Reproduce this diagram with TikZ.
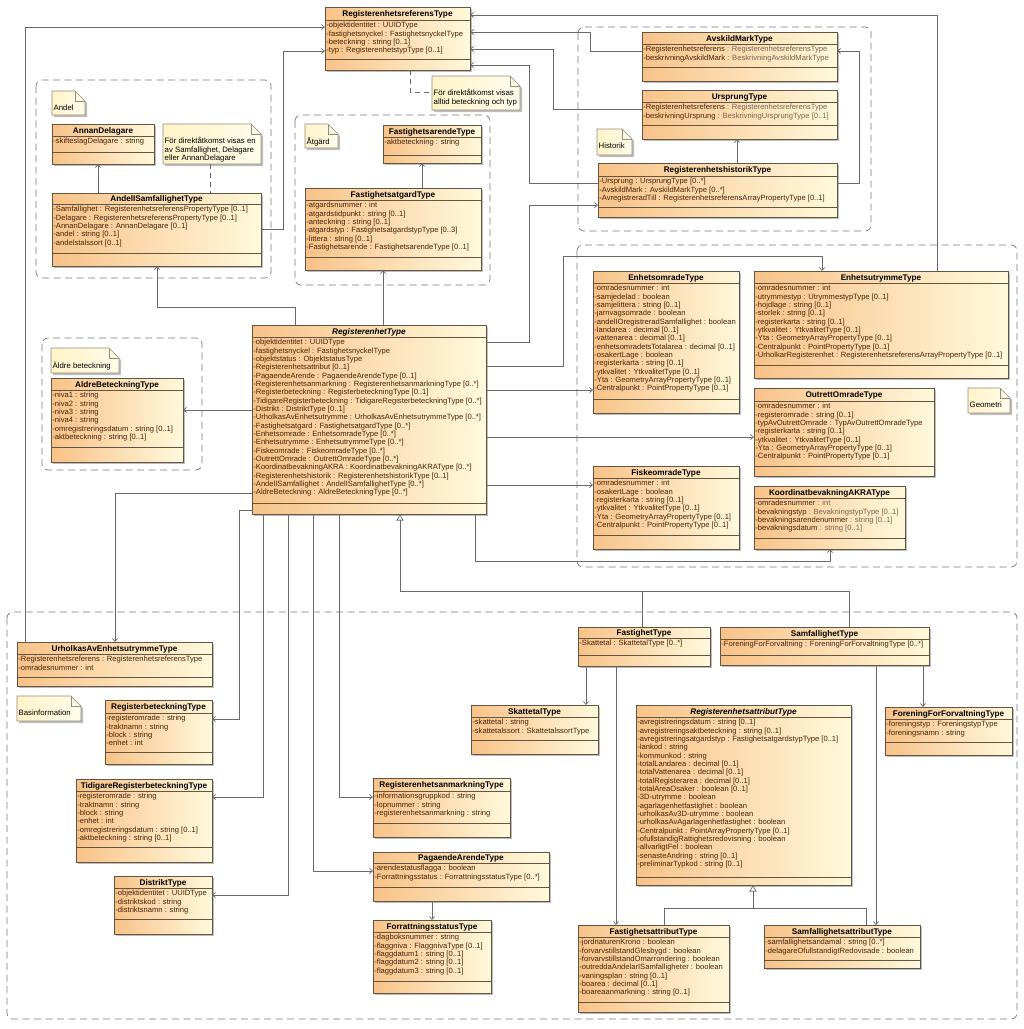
\documentclass[tikz,border=0pt]{standalone}
\usepackage{fontspec}
\setmainfont{Liberation Sans}
\usetikzlibrary{arrows.meta}
\definecolor{clsA}{RGB}{248,194,136}
\definecolor{clsB}{RGB}{255,249,220}
\definecolor{clsborder}{RGB}{100,84,66}
\definecolor{attrc}{RGB}{70,35,10}
\definecolor{typec}{RGB}{120,100,85}
\definecolor{noteA}{RGB}{255,243,200}
\definecolor{noteB}{RGB}{255,252,235}
\definecolor{notec}{RGB}{150,140,120}
\definecolor{connc}{RGB}{105,105,105}
\definecolor{grpc}{RGB}{120,120,120}
\definecolor{shadowc}{RGB}{190,190,190}
\tikzset{
  x=1pt,y=-1pt,
  clsbox/.style={rectangle,draw=clsborder,line width=0.65pt,left color=clsA,right color=clsB,anchor=north west,inner sep=0pt,outer sep=0pt},
  clssep/.style={draw=clsborder,line width=0.6pt},
  clstitle/.style={anchor=base,inner sep=0pt,font=\fontsize{8.2}{9}\selectfont\bfseries},
  clsattr/.style={anchor=north west,inner xsep=1.2pt,inner ysep=2.2pt,align=left,text=attrc,font=\fontsize{7.6}{8.33}\selectfont},
  notefill/.style={draw=notec,line width=0.6pt,left color=noteA,right color=noteB},
  noteline/.style={draw=notec,line width=0.6pt},
  notebox/.style={rectangle,anchor=north west,inner sep=0pt,outer sep=0pt},
  notetext/.style={anchor=north west,inner sep=1pt,align=left,font=\fontsize{7.8}{8.4}\selectfont},
  grp/.style={draw=grpc,line width=0.7pt,dash pattern=on 7pt off 4.5pt,rounded corners=6pt},
  conn/.style={draw=connc,line width=0.7pt},
  assoc/.style={conn,-{Straight Barb[length=3pt,width=5pt]}},
  gen/.style={conn,-{Triangle[open,length=6.5pt,width=7pt,fill=white]}},
  noteconn/.style={conn,dash pattern=on 5pt off 4pt},
}
\newcommand\tp[1]{\textcolor{typec}{#1}}
\newcommand\umlclass[9]{%
  \pgfmathsetmacro\umlw{#4-#2}%
  \pgfmathsetmacro\umlh{#5-#3}%
  \fill[shadowc] ({#2+2},{#3+2}) rectangle ({#4+2},{#5+2});%
  \node[clsbox,minimum width=\umlw pt,minimum height=\umlh pt] (#1) at (#2,#3) {};%
  \draw[clssep] (#2,#6) -- (#4,#6);%
  \draw[clssep] (#2,#7) -- (#4,#7);%
  \node[clstitle] at ({(#2+#4)/2},{(#3+#6)/2+3}) {#8};%
  \node[clsattr] at (#2,#6) {#9};%
}
\newcommand\umlnote[6]{%
  \pgfmathsetmacro\umlw{#4-#2}%
  \pgfmathsetmacro\umlh{#5-#3}%
  \fill[shadowc] ({#2+2},{#3+2}) -- ({#4+2-10},{#3+2}) -- ({#4+2},{#3+12}) -- ({#4+2},{#5+2}) -- ({#2+2},{#5+2}) -- cycle;%
  \path[notefill] (#2,#3) -- ({#4-10},#3) -- (#4,{#3+10}) -- (#4,#5) -- (#2,#5) -- cycle;%
  \draw[noteline] ({#4-10},#3) -- ({#4-10},{#3+10}) -- (#4,{#3+10});%
  \node[notebox,minimum width=\umlw pt,minimum height=\umlh pt] (#1) at (#2,#3) {};%
  \node[notetext] at ({#2+0.5},{#3+12.5}) {#6};%
}
\begin{document}
\begin{tikzpicture}
\useasboundingbox (0,0) rectangle (1024,1029);
\fill[white] (0,0) rectangle (1024,1029);

% group frames
\draw[grp] (36,80) rectangle (271,278);
\draw[grp] (295,115) rectangle (490,285);
\draw[grp] (578,27) rectangle (871,231);
\draw[grp] (42,338) rectangle (202,470);
\draw[grp] (577,245) rectangle (1017,567);
\draw[grp] (7,612) rectangle (1017,1019);

% notes
\umlnote{noteRef}{432}{76}{520}{110}{För direktåtkomst visas\\alltid beteckning och typ}
\umlnote{noteAndelLbl}{52}{91}{85}{115}{Andel}
\umlnote{noteAndel}{163}{124}{261}{164}{För direktåtkomst visas en\\av Samfallighet, Delagare\\eller AnnanDelagare}
\umlnote{noteAtgard}{305}{124}{338}{148}{Åtgärd}
\umlnote{noteHist}{597}{129}{632}{155}{Historik}
\umlnote{noteAldre}{51}{348}{119}{373}{Äldre beteckning}
\umlnote{noteGeo}{968}{388}{1010}{413}{Geometri}
\umlnote{noteBas}{17}{696}{81}{721}{Basinformation}

% classes
\umlclass{regref}{325}{7}{470}{70}{20}{59}{RegisterenhetsreferensType}{-objektidentitet : UUIDType\\-fastighetsnyckel : FastighetsnyckelType\\-beteckning : string [0..1]\\-typ : RegisterenhetstypType [0..1]}
\umlclass{annan}{52}{124}{154}{164}{136}{152}{AnnanDelagare}{-skifteslagDelagare : string}
\umlclass{andelsamf}{52}{193}{261}{266}{204}{253}{AndelISamfallighetType}{-Samfallighet : RegisterenhetsreferensPropertyType [0..1]\\-Delagare : RegisterenhetsreferensPropertyType [0..1]\\-AnnanDelagare : AnnanDelagare [0..1]\\-andel : string [0..1]\\-andelstalssort [0..1]}
\umlclass{fastarende}{383}{125}{481}{163}{137}{155}{FastighetsarendeType}{-aktbeteckning : string}
\umlclass{fastatgard}{305}{188}{481}{270}{200}{257}{FastighetsatgardType}{-atgardsnummer : int\\-atgardstidpunkt : string [0..1]\\-anteckning : string [0..1]\\-atgardstyp : FastighetsatgardstypType [0..3]\\-littera : string [0..1]\\-Fastighetsarende : FastighetsarendeType [0..1]}
\umlclass{avskild}{642}{32}{837}{81}{44}{67}{AvskildMarkType}{-Registerenhetsreferens \tp{: RegisterenhetsreferensType}\\-beskrivningAvskildMark \tp{: BeskrivningAvskildMarkType}}
\umlclass{ursprung}{642}{90}{837}{139}{102}{125}{UrsprungType}{-Registerenhetsreferens \tp{: RegisterenhetsreferensType}\\-beskrivningUrsprung \tp{: BeskrivningUrsprungType [0..1]}}
\umlclass{historik}{598}{163}{837}{217}{176}{207}{RegisterenhetshistorikType}{-Ursprung : UrsprungType [0..*]\\-AvskildMark : AvskildMarkType [0..*]\\-AvregistreradTill : RegisterenhetsreferensArrayPropertyType [0..1]}
\umlclass{aldre}{51}{378}{183}{462}{390}{447}{AldreBeteckningType}{-niva1 : string\\-niva2 : string\\-niva3 : string\\-niva4 : string\\-omregistreringsdatum : string [0..1]\\-aktbeteckning : string [0..1]}
\umlclass{regtype}{252}{325}{486}{514}{337}{503}{\itshape RegisterenhetType}{-objektidentitet : UUIDType\\-fastighetsnyckel : FastighetsnyckelType\\-objektstatus : ObjektstatusType\\-Registerenhetsattribut [0..1]\\-PagaendeArende : PagaendeArendeType [0..1]\\-Registerenhetsanmarkning : RegisterenhetsanmarkningType [0..*]\\-Registerbeteckning : RegisterbeteckningType [0..1]\\-TidigareRegisterbeteckning : TidigareRegisterbeteckningType [0..*]\\-Distrikt : DistriktType [0..1]\\-UrholkasAvEnhetsutrymme : UrholkasAvEnhetsutrymmeType [0..*]\\-Fastighetsatgard : FastighetsatgardType [0..*]\\-Enhetsomrade : EnhetsomradeType [0..*]\\-Enhetsutrymme : EnhetsutrymmeType [0..*]\\-Fiskeomrade : FiskeomradeType [0..*]\\-OutrettOmrade : OutrettOmradeType [0..*]\\-KoordinatbevakningAKRA : KoordinatbevakningAKRAType [0..*]\\-Registerenhetshistorik : RegisterenhetshistorikType [0..1]\\-AndelISamfallighet : AndelISamfallighetType [0..*]\\-AldreBeteckning : AldreBeteckningType [0..*]}
\umlclass{enhomr}{593}{271}{739}{413}{283}{399}{EnhetsomradeType}{-omradesnummer : int\\-samjedelad : boolean\\-samjelittera : string [0..1]\\-jarnvagsomrade : boolean\\-andelIOregistreradSamfallighet : boolean\\-landarea : decimal [0..1]\\-vattenarea : decimal [0..1]\\-enhetsomradetsTotalarea : decimal [0..1]\\-osakertLage : boolean\\-registerkarta : string [0..1]\\-ytkvalitet : YtkvalitetType [0..1]\\-Yta : GeometryArrayPropertyType [0..1]\\-Centralpunkt : PointPropertyType [0..1]}
\umlclass{enhutr}{754}{271}{1008}{378}{283}{365}{EnhetsutrymmeType}{-omradesnummer : int\\-utrymmestyp : UtrymmestypType [0..1]\\-hojdlage : string [0..1]\\-storlek : string [0..1]\\-registerkarta : string [0..1]\\-ytkvalitet : YtkvalitetType [0..1]\\-Yta : GeometryArrayPropertyType [0..1]\\-Centralpunkt : PointPropertyType [0..1]\\-UrholkarRegisterenhet : RegisterenhetsreferensArrayPropertyType [0..1]}
\umlclass{outrett}{754}{388}{934}{476}{401}{466}{OutrettOmradeType}{-omradesnummer : int\\-registeromrade : string [0..1]\\-typAvOutrettOmrade : TypAvOutrettOmradeType\\-registerkarta : string [0..1]\\-ytkvalitet : YtkvalitetType [0..1]\\-Yta : GeometryArrayPropertyType [0..1]\\-Centralpunkt : PointPropertyType [0..1]}
\umlclass{fiske}{593}{466}{739}{549}{478}{535}{FiskeomradeType}{-omradesnummer : int\\-osakertLage : boolean\\-registerkarta : string [0..1]\\-ytkvalitet : YtkvalitetType [0..1]\\-Yta : GeometryArrayPropertyType [0..1]\\-Centralpunkt : PointPropertyType [0..1]}
\umlclass{koord}{754}{486}{905}{549}{498}{538}{KoordinatbevakningAKRAType}{-omradesnummer \tp{: int}\\-bevakningstyp \tp{: BevakningstypType [0..1]}\\-bevakningsarendenummer \tp{: string [0..1]}\\-bevakningsdatum \tp{: string [0..1]}}
\umlclass{urholkas}{17}{642}{212}{686}{654}{677}{UrholkasAvEnhetsutrymmeType}{-Registerenhetsreferens : RegisterenhetsreferensType\\-omradesnummer : int}
\umlclass{regbet}{105}{700}{212}{764}{713}{752}{RegisterbeteckningType}{-registeromrade : string\\-traktnamn : string\\-block : string\\-enhet : int}
\umlclass{tidigare}{76}{779}{212}{862}{791}{847}{TidigareRegisterbeteckningType}{-registeromrade : string\\-traktnamn : string\\-block : string\\-enhet : int\\-omregistreringsdatum : string [0..1]\\-aktbeteckning : string [0..1]}
\umlclass{distrikt}{114}{876}{212}{934}{888}{919}{DistriktType}{-objektidentitet : UUIDType\\-distriktskod : string\\-distriktsnamn : string}
\umlclass{anmark}{373}{778}{510}{837}{791}{823}{RegisterenhetsanmarkningType}{-informationsgruppkod : string\\-lopnummer : string\\-registerenhetsanmarkning : string}
\umlclass{pagaende}{373}{852}{549}{901}{863}{887}{PagaendeArendeType}{-arendestatusflagga : boolean\\-Forrattningsstatus : ForrattningsstatusType [0..*]}
\umlclass{forratt}{373}{920}{491}{993}{932}{981}{ForrattningsstatusType}{-dagboksnummer : string\\-flaggniva : FlaggnivaType [0..1]\\-flaggdatum1 : string [0..1]\\-flaggdatum2 : string [0..1]\\-flaggdatum3 : string [0..1]}
\umlclass{fastighet}{578}{627}{710}{666}{638}{655}{FastighetType}{-Skattetal : SkattetalType [0..*]}
\umlclass{skattetal}{471}{705}{598}{754}{717}{740}{SkattetalType}{-skattetal : string\\-skattetalssort : SkattetalssortType}
\umlclass{samf}{720}{627}{929}{665}{639}{655}{SamfallighetType}{-ForeningForForvaltning : ForeningForForvaltningType [0..*]}
\umlclass{forening}{885}{707}{1012}{755}{719}{742}{ForeningForForvaltningType}{-foreningstyp : ForeningstypType\\-foreningsnamn : string}
\umlclass{regattr}{636}{705}{851}{885}{717}{877}{\itshape RegisterenhetsattributType}{-avregistreringsdatum : string [0..1]\\-avregistreringsaktbeteckning : string [0..1]\\-avregistreringsatgardstyp : FastighetsatgardstypType [0..1]\\-lankod : string\\-kommunkod : string\\-totalLandarea : decimal [0..1]\\-totalVattenarea : decimal [0..1]\\-totalRegisterarea : decimal [0..1]\\-totalAreaOsaker : boolean [0..1]\\-3D-utrymme : boolean\\-agarlagenhetfastighet : boolean\\-urholkasAv3D-utrymme : boolean\\-urholkasAvAgarlagenhetfastighet : boolean\\-Centralpunkt : PointArrayPropertyType [0..1]\\-ofullstandigRattighetsredovisning : boolean\\-allvarligtFel : boolean\\-senasteAndring : string [0..1]\\-preliminarTypkod : string [0..1]}
\umlclass{fastattr}{578}{925}{729}{1012}{937}{1002}{FastighetsattributType}{-jordnaturenKrono : boolean\\-forvarvstillstandGlesbygd : boolean\\-forvarvstillstandOmarrondering : boolean\\-outreddaAndelarISamfalligheter : boolean\\-vaningsplan : string [0..1]\\-boarea : decimal [0..1]\\-boareaanmarkning : string [0..1]}
\umlclass{samfattr}{764}{925}{920}{968}{937}{960}{SamfallighetsattributType}{-samfallighetsandamal : string [0..*]\\-delagareOfullstandigtRedovisade : boolean}

% note connectors
\draw[noteconn] (regref.south -| 410,0) -- (410,92) -- (noteRef.west |- 0,92);
\draw[noteconn] (noteAndel.south -| 210,0) -- (andelsamf.north -| 210,0);

% associations
\draw[assoc] (regtype.north -| 295,0) -- (295,307) -- (157,307) -- (andelsamf.south -| 157,0);
\draw[assoc] (regtype.north -| 383,0) -- (fastatgard.south -| 383,0);
\draw[assoc] (andelsamf.north -| 98,0) -- (annan.south -| 98,0);
\draw[assoc] (fastatgard.north -| 422,0) -- (fastarende.south -| 422,0);
\draw[assoc] (andelsamf.east |- 0,229) -- (283,229) -- (283,51) -- (regref.west |- 0,51);
\draw[assoc] (urholkas.north -| 25,0) -- (25,27) -- (regref.west |- 0,27);
\draw[assoc] (enhutr.north -| 937,0) -- (937,15) -- (regref.east |- 0,15);
\draw[assoc] (avskild.west |- 0,51) -- (590,51) -- (590,32) -- (regref.east |- 0,32);
\draw[assoc] (ursprung.west |- 0,109) -- (553,109) -- (553,49) -- (regref.east |- 0,49);
\draw[assoc] (historik.west |- 0,183) -- (529,183) -- (529,65) -- (regref.east |- 0,65);
\draw[assoc] (historik.north -| 737,0) -- (ursprung.south -| 737,0);
\draw[assoc] (historik.east |- 0,183) -- (859,183) -- (859,51) -- (avskild.east |- 0,51);
\draw[assoc] (regtype.east |- 0,342) -- (529,342) -- (529,205) -- (historik.west |- 0,205);
\draw[assoc] (regtype.east |- 0,366) -- (563,366) -- (563,256) -- (822,256) -- (enhutr.north -| 822,0);
\draw[assoc] (regtype.east |- 0,390) -- (enhomr.west |- 0,390);
\draw[assoc] (regtype.east |- 0,437) -- (outrett.west |- 0,437);
\draw[assoc] (regtype.east |- 0,485) -- (fiske.west |- 0,485);
\draw[assoc] (regtype.south -| 475,0) -- (475,561) -- (830,561) -- (koord.south -| 830,0);
\draw[assoc] (regtype.west |- 0,410) -- (aldre.east |- 0,410);
\draw[assoc] (regtype.west |- 0,493) -- (115,493) -- (urholkas.north -| 115,0);
\draw[assoc] (regtype.west |- 0,510) -- (239,510) -- (239,719) -- (regbet.east |- 0,719);
\draw[assoc] (regtype.south -| 263,0) -- (263,797) -- (tidigare.east |- 0,797);
\draw[assoc] (regtype.south -| 288,0) -- (288,895) -- (distrikt.east |- 0,895);
\draw[assoc] (regtype.south -| 313,0) -- (313,871) -- (pagaende.west |- 0,871);
\draw[assoc] (regtype.south -| 339,0) -- (339,797) -- (anmark.west |- 0,797);
\draw[assoc] (pagaende.south -| 432,0) -- (forratt.north -| 432,0);
\draw[assoc] (fastighet.south -| 586,0) -- (skattetal.north -| 586,0);
\draw[assoc] (fastighet.south -| 616,0) -- (fastattr.north -| 616,0);
\draw[assoc] (samf.south -| 923,0) -- (forening.north -| 923,0);
\draw[assoc] (samf.south -| 876,0) -- (samfattr.north -| 876,0);

% generalizations
\draw[conn] (samf.north -| 849,0) -- (849,591) -- (642,591);
\draw[gen] (fastighet.north -| 642,0) -- (642,591) -- (400,591) -- (regtype.south -| 400,0);
\draw[conn] (samfattr.north -| 866,0) -- (866,908) -- (753,908);
\draw[gen] (fastattr.north -| 664,0) -- (664,908) -- (753,908) -- (regattr.south -| 753,0);
\end{tikzpicture}
\end{document}
